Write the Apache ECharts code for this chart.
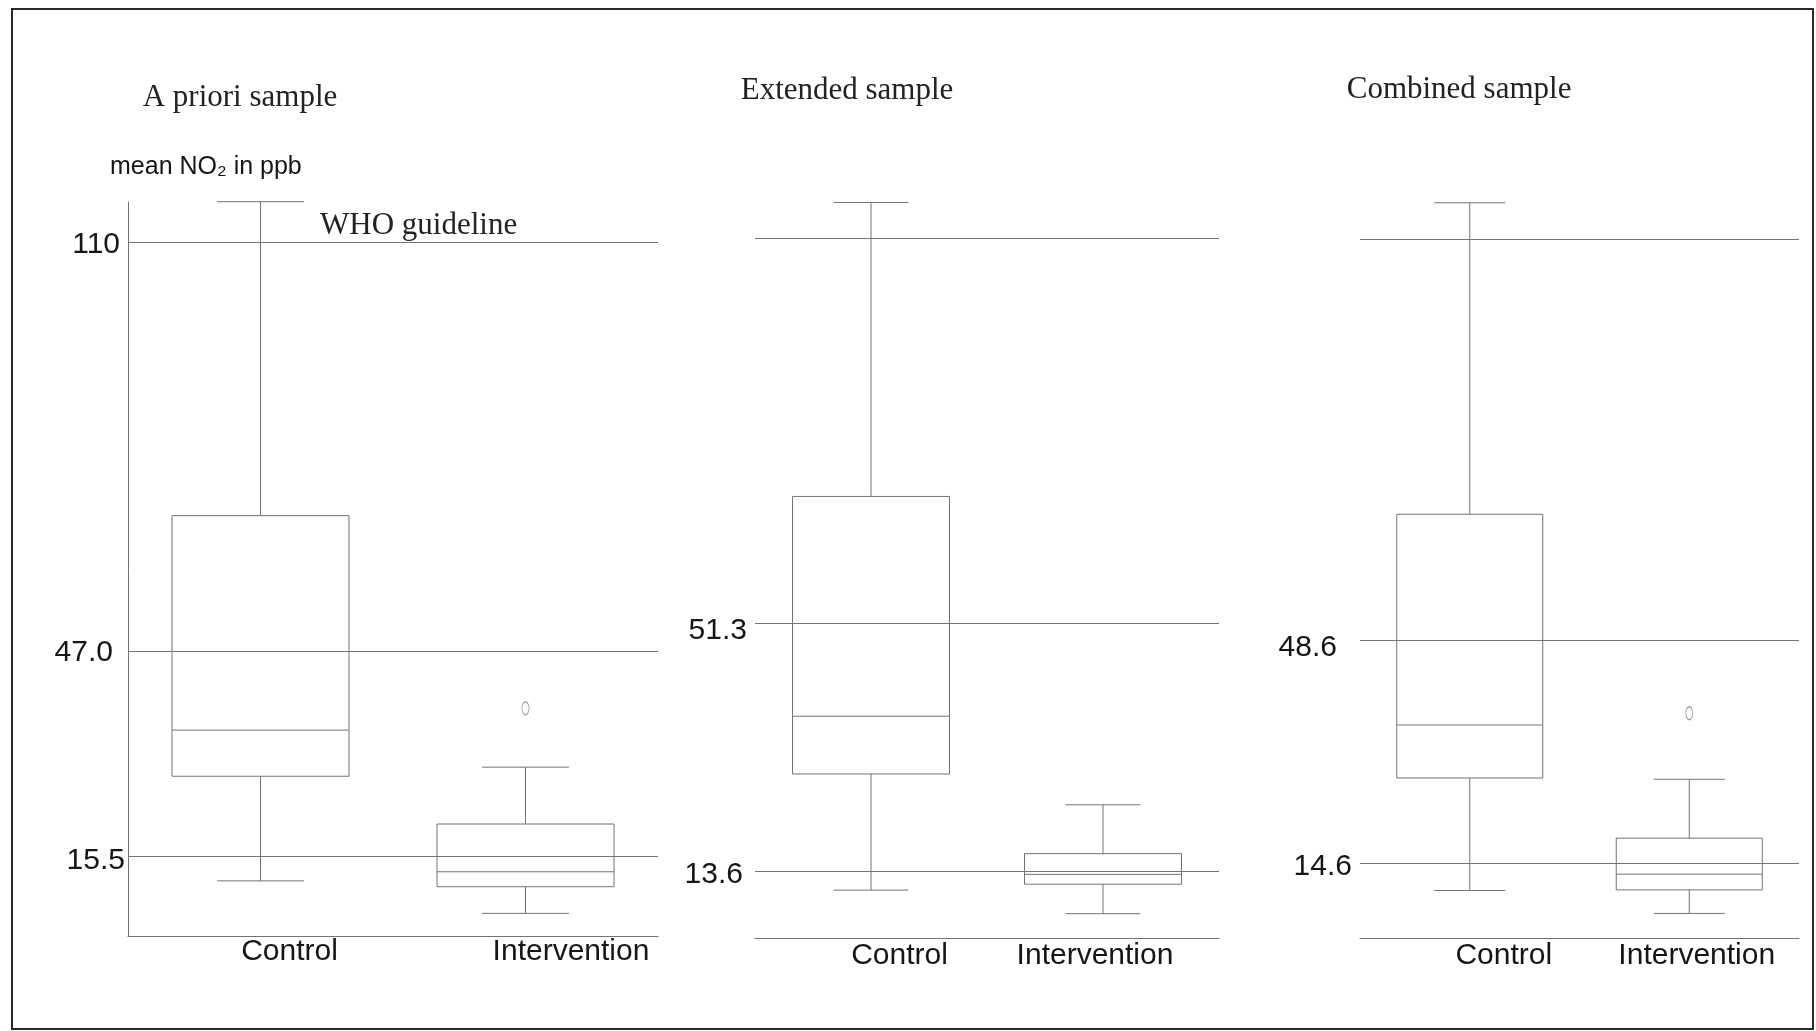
<!DOCTYPE html>
<html><head><meta charset="utf-8">
<script src="https://cdn.jsdelivr.net/npm/echarts@6/dist/echarts.min.js"></script>
<style>html,body{margin:0;padding:0;background:#fff;} #c{width:1816px;height:1031px;}</style>
</head><body><div id="c"></div>
<script>
// ---------- data ----------
const categories = ['Control', 'Intervention'];
const panelTitles = ['A priori sample', 'Extended sample', 'Combined sample'];
const yAxisName = 'mean NO\u2082 in ppb';
const guidelineText = 'WHO guideline';
// each box: [lower whisker, Q1, median, Q3, upper whisker]
const aprioriControl = [11.7, 27.8, 34.9, 67.9, 116.2];
const aprioriIntervention = [6.7, 10.8, 13.1, 20.45, 29.2];
const aprioriOutliers = [38.25];            // Intervention
const extendedControl = [10.7, 28.4, 37.2, 70.7, 115.5];
const extendedIntervention = [7.1, 11.6, 13.1, 16.25, 23.7];
const extendedOutliers = [];
const combinedControl = [10.4, 27.6, 35.7, 67.9, 115.5];
const combinedIntervention = [6.9, 10.5, 12.9, 18.4, 27.4];
const combinedOutliers = [37.5];            // Intervention
// horizontal reference lines and their tick labels
const aprioriRefLines = [110, 47.0, 15.5];
const extendedRefLines = [110, 51.3, 13.6];
const combinedRefLines = [110, 48.6, 14.6];
const aprioriTickLabels = ['110', '47.0', '15.5'];
const extendedTickLabels = ['', '51.3', '13.6'];
const combinedTickLabels = ['', '48.6', '14.6'];

// ---------- layout / style ----------
const SANS = '"Liberation Sans", Arial, sans-serif';
const SERIF = '"Liberation Serif", "Times New Roman", serif';
const LINE = '#737373';
const TEXT = '#161616';

const panels = [
  { boxes: [aprioriControl, aprioriIntervention], outliers: aprioriOutliers, refs: aprioriRefLines, ticks: aprioriTickLabels,
    left: 128, width: 530, top: 202, height: 734.7, min: 3.11, max: 116.16, boxW: 177, capW: 87, showYLine: true,
    yMargin: 3, tickPad: [[6,5],[2,12],[10,0]], xMargin: 0, catShift: [29, 45.5] },
  { boxes: [extendedControl, extendedIntervention], outliers: extendedOutliers, refs: extendedRefLines, ticks: extendedTickLabels,
    left: 755, width: 464, top: 202, height: 736.3, min: 3.35, max: 115.58, boxW: 157, capW: 75, showYLine: false,
    yMargin: 8, tickPad: [[0,0],[14,0],[8,4]], xMargin: 2, catShift: [28.5, -8] },
  { boxes: [combinedControl, combinedIntervention], outliers: combinedOutliers, refs: combinedRefLines, ticks: combinedTickLabels,
    left: 1360, width: 439, top: 202, height: 736.5, min: 3.07, max: 115.62, boxW: 146, capW: 71, showYLine: false,
    yMargin: 8, tickPad: [[0,0],[15,15],[8,0]], xMargin: 2, catShift: [34, 7.5] }
];

function makeRender(boxW, capW) {
  return function (params, api) {
    const x = api.value(0);
    const pLow = api.coord([x, api.value(1)]);
    const pQ1 = api.coord([x, api.value(2)]);
    const pMed = api.coord([x, api.value(3)]);
    const pQ3 = api.coord([x, api.value(4)]);
    const pHigh = api.coord([x, api.value(5)]);
    const cx = pMed[0];
    const st = { stroke: LINE, lineWidth: 1, fill: null };
    return {
      type: 'group',
      children: [
        { type: 'rect', shape: { x: cx - boxW / 2, y: pQ3[1], width: boxW, height: pQ1[1] - pQ3[1] }, style: { stroke: LINE, lineWidth: 1, fill: 'rgba(0,0,0,0)' } },
        { type: 'line', shape: { x1: cx - boxW / 2, y1: pMed[1], x2: cx + boxW / 2, y2: pMed[1] }, style: st },
        { type: 'line', shape: { x1: cx, y1: pQ3[1], x2: cx, y2: pHigh[1] }, style: st },
        { type: 'line', shape: { x1: cx - capW / 2, y1: pHigh[1], x2: cx + capW / 2, y2: pHigh[1] }, style: st },
        { type: 'line', shape: { x1: cx, y1: pQ1[1], x2: cx, y2: pLow[1] }, style: st },
        { type: 'line', shape: { x1: cx - capW / 2, y1: pLow[1], x2: cx + capW / 2, y2: pLow[1] }, style: st }
      ]
    };
  };
}

const grid = [], xAxis = [], yAxis = [], series = [];
panels.forEach((p, i) => {
  grid.push({ left: p.left, top: p.top, width: p.width, height: p.height });
  const catRich = {};
  p.catShift.forEach((s, k) => {
    catRich['c' + k] = { fontFamily: SANS, fontSize: 30, color: TEXT,
      padding: s >= 0 ? [0, 0, 0, 2 * s] : [0, -2 * s, 0, 0] };
  });
  xAxis.push({
    gridIndex: i, type: 'category', data: categories, boundaryGap: true,
    axisLine: { show: true, lineStyle: { color: LINE, width: 1 } },
    axisTick: { show: false }, splitLine: { show: false },
    axisLabel: { margin: p.xMargin, formatter: (v, k) => '{c' + k + '|' + v + '}', rich: catRich }
  });
  const labelled = p.refs.filter((v, k) => p.ticks[k] !== '');
  const tickRich = {};
  p.tickPad.forEach((pd, k) => {
    tickRich['t' + k] = { fontFamily: SANS, fontSize: 30, color: TEXT, padding: [pd[0], pd[1], 0, 0] };
  });
  yAxis.push({
    gridIndex: i, type: 'value', min: p.min, max: p.max,
    axisLine: { show: p.showYLine, lineStyle: { color: LINE, width: 1 } },
    axisTick: { show: false }, splitLine: { show: false },
    axisLabel: {
      customValues: labelled, margin: p.yMargin,
      formatter: (v) => { const k = p.refs.indexOf(v); return k < 0 ? '' : '{t' + k + '|' + p.ticks[k] + '}'; },
      rich: tickRich
    }
  });
  series.push({
    type: 'custom', xAxisIndex: i, yAxisIndex: i, clip: false, silent: true,
    renderItem: makeRender(p.boxW, p.capW),
    encode: { x: 0, y: [1, 2, 3, 4, 5] },
    data: p.boxes.map((b, k) => [k].concat(b)),
    markLine: {
      silent: true, symbol: ['none', 'none'], label: { show: false },
      lineStyle: { color: LINE, type: 'solid', width: 1 },
      data: p.refs.map(v => ({ yAxis: v }))
    },
    z: 3
  });
  if (p.outliers.length) {
    series.push({
      type: 'scatter', xAxisIndex: i, yAxisIndex: i, silent: true,
      symbol: 'circle', symbolSize: [7, 13],
      itemStyle: { color: '#ffffff', borderColor: '#9a9a9a', borderWidth: 1, opacity: 1 },
      data: p.outliers.map(v => [1, v]),
      z: 5
    });
  }
});

const titlePos = [[142.7, 97.5], [740.7, 90.8], [1346.7, 90]];
const graphic = [
  { type: 'rect', shape: { x: 12, y: 9, width: 1801, height: 1020 }, style: { fill: 'none', stroke: '#2a2a2a', lineWidth: 2 }, z: 100 }
];
panelTitles.forEach((t, i) => {
  graphic.push({ type: 'text', x: titlePos[i][0], y: titlePos[i][1],
    style: { text: t, font: '31px ' + SERIF, fill: '#222222', align: 'left', verticalAlign: 'middle' } });
});
graphic.push({ type: 'text', x: 110, y: 167.4,
  style: { text: yAxisName, font: '25px ' + SANS, fill: TEXT, align: 'left', verticalAlign: 'middle' } });
graphic.push({ type: 'text', x: 320, y: 226,
  style: { text: guidelineText, font: '31px ' + SERIF, fill: '#222222', align: 'left', verticalAlign: 'middle' } });

const chart = echarts.init(document.getElementById('c'), null, { renderer: 'canvas' });
chart.setOption({
  backgroundColor: '#ffffff',
  animation: false,
  grid, xAxis, yAxis, series, graphic
});
</script></body></html>
